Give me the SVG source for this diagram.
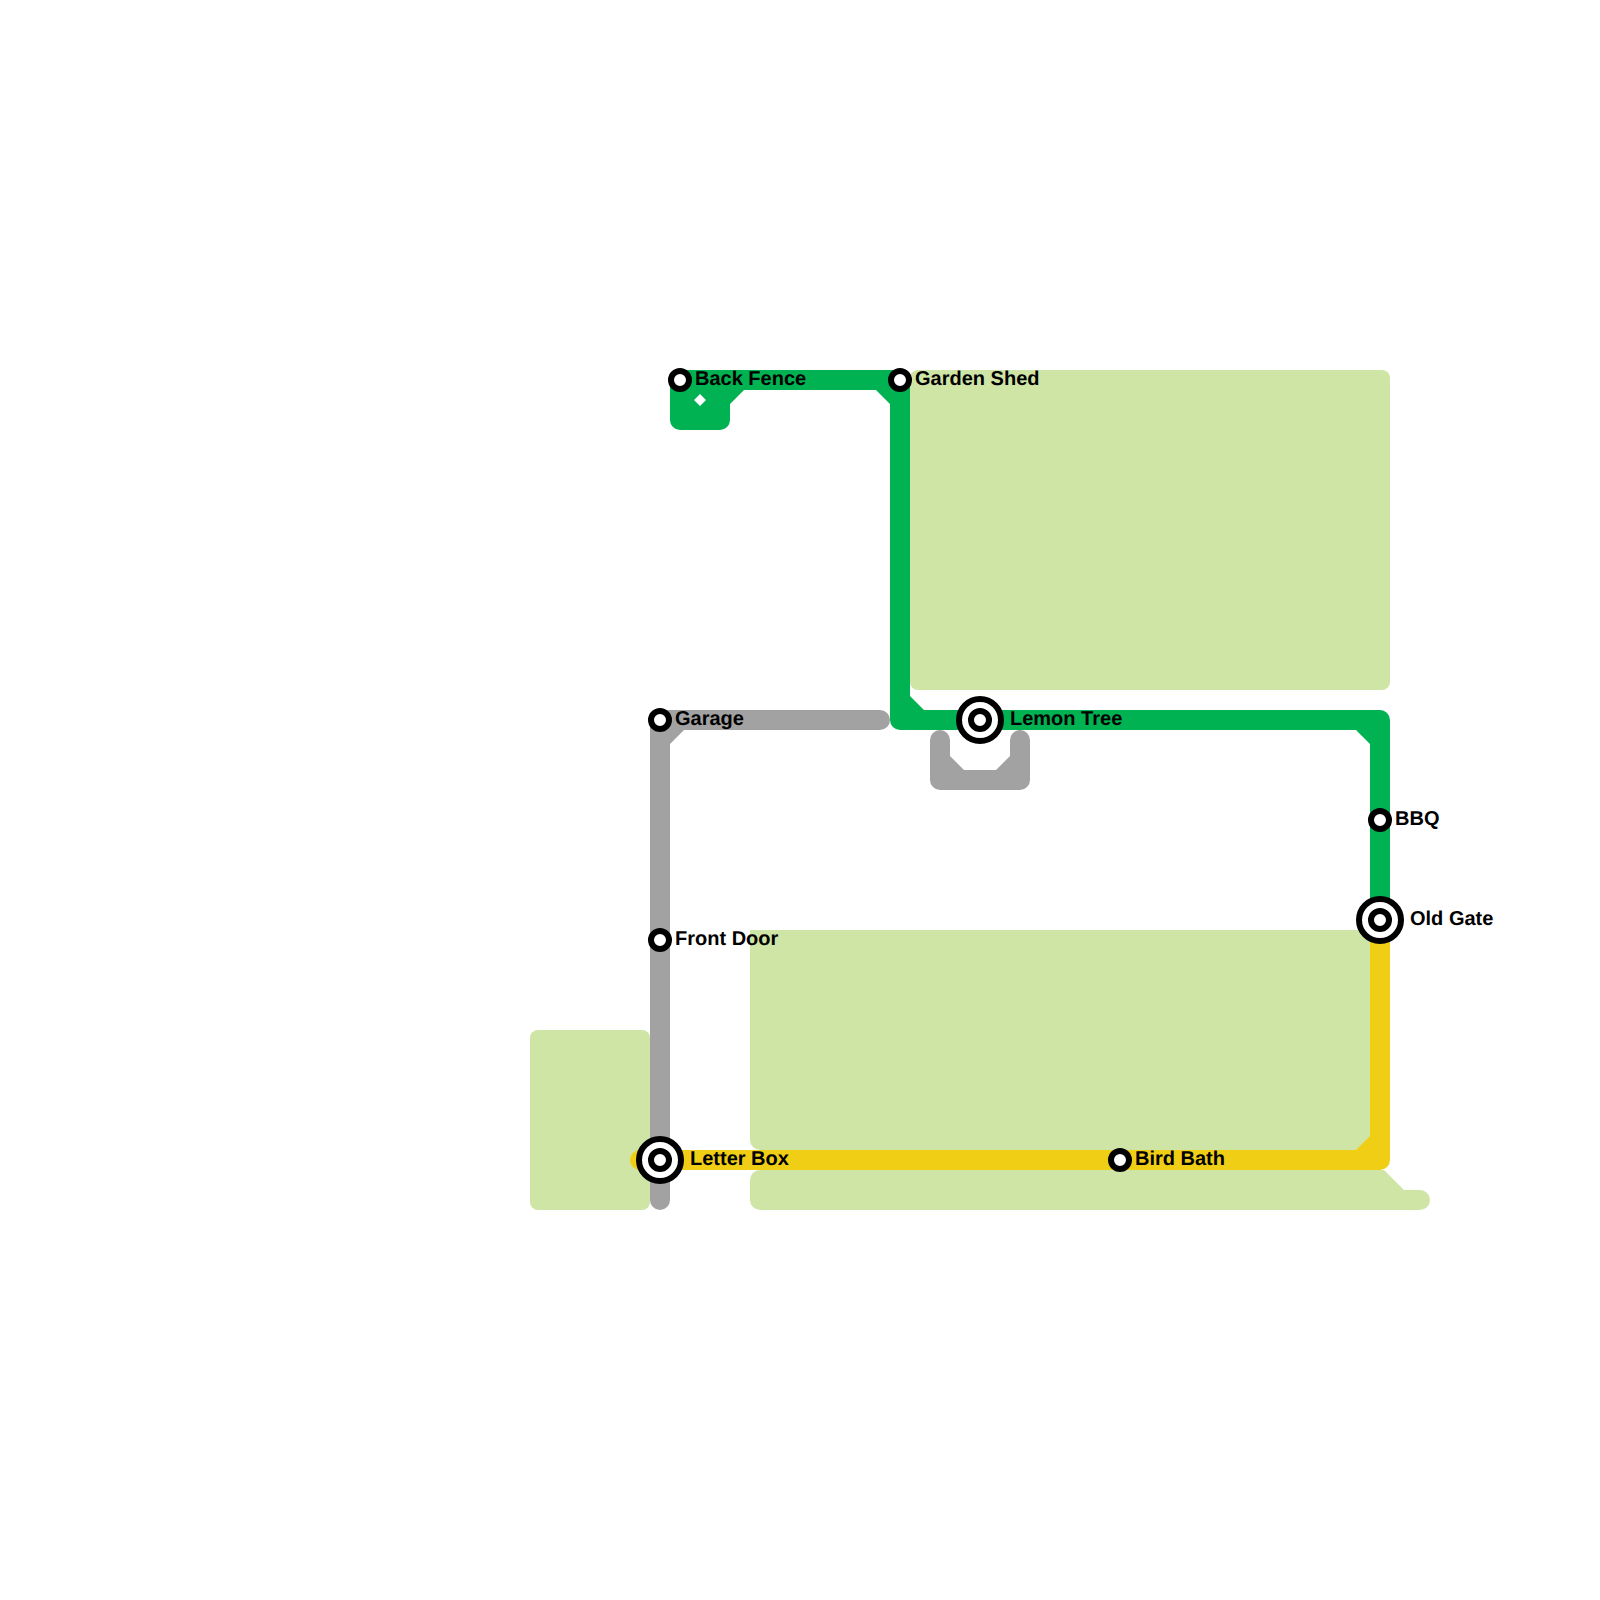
<svg xmlns="http://www.w3.org/2000/svg" width="1600" height="1600" viewBox="0 0 1600 1600">
<style>
.light{fill:#cfe5a6}
.green{fill:#00b251}
.grey{fill:#a2a2a2}
.yellow{fill:#f0ce15}
.ring{fill:#fff;stroke:#000;stroke-width:6}
text{font-family:"Liberation Sans",Arial,sans-serif;font-weight:700;font-size:20px;fill:#000;text-rendering:geometricPrecision}
</style>
<rect width="1600" height="1600" fill="#fff"/>
<g id="blocks">
<rect class="light" x="910" y="370" width="480" height="320" rx="8"/>
<path class="light" d="M750 930H1380V1136L1356 1150H760A10 10 0 0 1 750 1140Z"/>
<path class="light" d="M760 1170H1384L1404 1190H1420A10 10 0 0 1 1420 1210H760A10 10 0 0 1 750 1200V1180A10 10 0 0 1 760 1170Z"/>
<rect class="light" x="530" y="1030" width="120" height="180" rx="8"/>
</g>
<g id="connectors">
<path class="yellow" d="M1370 920H1390V1160A10 10 0 0 1 1380 1170H640A10 10 0 0 1 640 1150H1356L1370 1136Z"/>
<path class="grey" d="M660 710H880A10 10 0 0 1 880 730H684L670 744V1200A10 10 0 0 1 650 1200V720A10 10 0 0 1 660 710Z"/>
<path class="grey" d="M930 740A10 10 0 0 1 950 740V756L964 770H996L1010 756V740A10 10 0 0 1 1030 740V780A10 10 0 0 1 1020 790H940A10 10 0 0 1 930 780Z"/>
<path class="green" fill-rule="evenodd" d="M680 370H900A10 10 0 0 1 910 380V696L924 710H1380A10 10 0 0 1 1390 720V920H1370V744L1356 730H900A10 10 0 0 1 890 720V404L876 390H744L730 404V420A10 10 0 0 1 720 430H680A10 10 0 0 1 670 420V380A10 10 0 0 1 680 370ZM700 394L706 400L700 406L694 400Z"/>
</g>
<g id="st-back-fence"><circle class="ring" cx="680" cy="380" r="9"/><text x="695" y="385">Back Fence</text></g>
<g id="st-garden-shed"><circle class="ring" cx="900" cy="380" r="9"/><text x="915" y="385">Garden Shed</text></g>
<g id="st-garage"><circle class="ring" cx="660" cy="720" r="9"/><text x="675" y="725">Garage</text></g>
<g id="st-lemon-tree"><circle class="ring" cx="980" cy="720" r="21"/><circle class="ring" cx="980" cy="720" r="9"/><text x="1010" y="725">Lemon Tree</text></g>
<g id="st-bbq"><circle class="ring" cx="1380" cy="820" r="9"/><text x="1395" y="825">BBQ</text></g>
<g id="st-old-gate"><circle class="ring" cx="1380" cy="920" r="21"/><circle class="ring" cx="1380" cy="920" r="9"/><text x="1410" y="925">Old Gate</text></g>
<g id="st-front-door"><circle class="ring" cx="660" cy="940" r="9"/><text x="675" y="945">Front Door</text></g>
<g id="st-letter-box"><circle class="ring" cx="660" cy="1160" r="21"/><circle class="ring" cx="660" cy="1160" r="9"/><text x="690" y="1165">Letter Box</text></g>
<g id="st-bird-bath"><circle class="ring" cx="1120" cy="1160" r="9"/><text x="1135" y="1165">Bird Bath</text></g>
</svg>
